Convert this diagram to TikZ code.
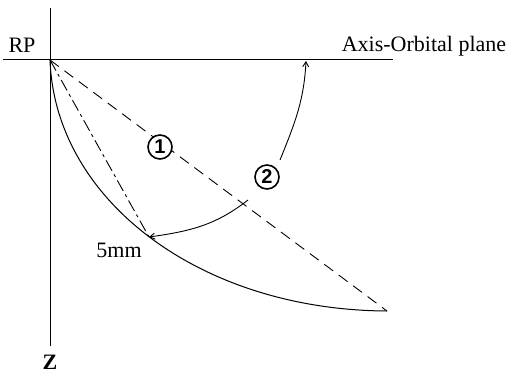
\documentclass[tikz,border=0pt]{standalone}
\usepackage{fontspec}
\setmainfont{Liberation Serif}
\setsansfont{Liberation Sans}
\usetikzlibrary{arrows.meta}

\begin{document}
\begin{tikzpicture}[
    x=1pt, y=-1pt,
    line width=0.9pt,
    axisline/.style={
        draw=black,
        line width=1pt
    },
    dashline/.style={
        draw=black,
        dash pattern=on 11pt off 7pt
    },
    dashdotline/.style={
        draw=black,
        dash pattern=on 12pt off 4pt on 3pt off 4pt
    },
    curveline/.style={
        draw=black,
        line width=1pt
    },
    arrow/.style={
        -{Straight Barb[length=5pt,width=6pt]},
        line width=0.9pt,
        color=black
    },
    label/.style={
        font=\fontsize{22}{26}\selectfont,
        inner sep=1pt
    },
    circnum/.style={
        circle,
        draw=black,
        line width=1.6pt,
        fill=white,
        minimum size=24pt,
        inner sep=0pt,
        font=\fontsize{20}{22}\selectfont\sffamily\bfseries
    }
]
\useasboundingbox (0,0) rectangle (513,374);

% Points
\coordinate (O) at (50,60);
\coordinate (top) at (50,8);
\coordinate (bottom) at (50,346);
\coordinate (left) at (3,60);
\coordinate (right) at (393,60);
\coordinate (tip) at (387,311);
\coordinate (p5) at (149,237);

% Nodes
\node[label] (rp) at (22,45) {RP};
\node[label] (plane) at (424,46) {Axis-Orbital plane};
\node[label, font=\fontsize{22}{26}\selectfont\bfseries] (z) at (50,362) {Z};
\node[label] (mm) at (119,250) {5mm};

% Axes
\draw[axisline] (top) -- (bottom);
\draw[axisline] (left) -- (right);

% Curve and chords
\draw[curveline] (O) .. controls (55,200) and (200,310) .. (tip);
\draw[dashdotline] (O) -- (p5);
\draw[dashline] (O) -- (tip);
\node[circnum] (one) at (160,147) {1};

% Rotation
\node[circnum] (two) at (267,177) {2};
\draw[arrow] (248,200) to[out=218,in=8] (p5);
\draw[arrow] (280,160) to[out=68,in=-93] (306,61);

\end{tikzpicture}
\end{document}
